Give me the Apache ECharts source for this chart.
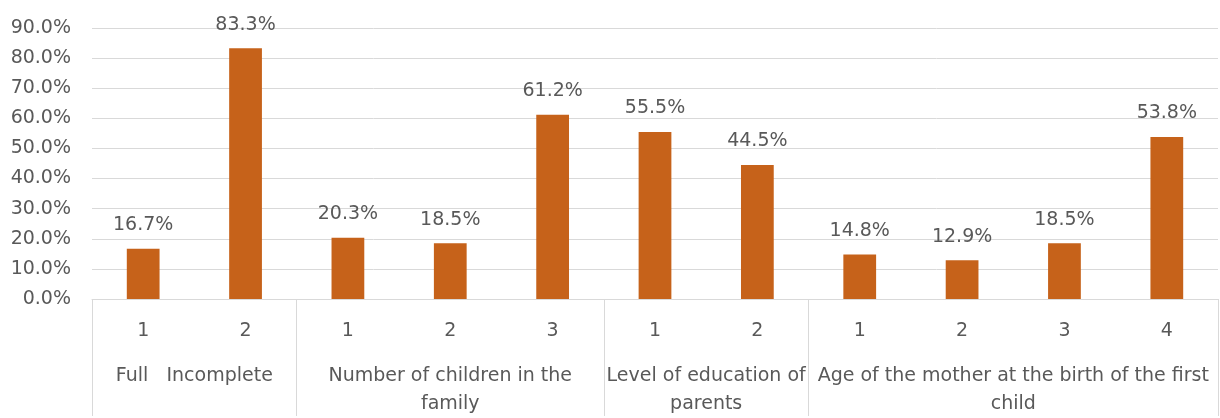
<!DOCTYPE html>
<html>
<head>
<meta charset="utf-8">
<script src="https://cdn.jsdelivr.net/npm/echarts@6/dist/echarts.min.js"></script>
<style>
html,body{margin:0;padding:0;background:#fff;}
#chart{width:1220px;height:418px;}
</style>
</head>
<body>
<div id="chart"></div>
<script>
// Data
var subCategories = ['1', '2', '1', '2', '3', '1', '2', '1', '2', '3', '4'];
var values = [0.167, 0.833, 0.203, 0.185, 0.612, 0.555, 0.445, 0.148, 0.129, 0.185, 0.538];
var groupNames = ['Full   Incomplete', 'Number of children in the\nfamily', 'Level of education of\nparents', 'Age of the mother at the birth of the first\nchild'];
var groupSizes = [2, 3, 2, 4];
var yTicks = [0, 0.1, 0.2, 0.3, 0.4, 0.5, 0.6, 0.7, 0.8, 0.9];

// Derived group boundaries and centers
var boundaries = [0];
var centers = [];
groupSizes.forEach(function (s) {
  var start = boundaries[boundaries.length - 1];
  centers.push(start + s / 2);
  boundaries.push(start + s);
});

var textColor = '#595959';
var lineColor = '#D9D9D9';
var fontFamily = 'DejaVu Sans';
var fs = 19;

var chart = echarts.init(document.getElementById('chart'));
chart.setOption({
  animation: false,
  grid: { left: 92, right: 2, top: 28, bottom: 117, containLabel: false },
  xAxis: [
    {
      type: 'category',
      data: subCategories,
      position: 'bottom',
      axisLine: { show: true, lineStyle: { color: lineColor, width: 1 } },
      axisTick: { show: false },
      axisLabel: { color: textColor, fontSize: fs, fontFamily: fontFamily, margin: 23, lineHeight: 19 },
      splitLine: { show: false }
    },
    {
      type: 'value',
      min: 0,
      max: subCategories.length,
      position: 'bottom',
      axisLine: { show: false },
      splitLine: { show: false },
      axisTick: {
        show: true,
        customValues: boundaries,
        length: 117,
        lineStyle: { color: lineColor, width: 1 }
      },
      axisLabel: {
        show: true,
        customValues: centers,
        color: textColor,
        fontSize: fs,
        fontFamily: fontFamily,
        lineHeight: 28,
        margin: 63,
        formatter: function (v) {
          for (var i = 0; i < centers.length; i++) {
            if (Math.abs(centers[i] - v) < 1e-6) return groupNames[i];
          }
          return '';
        }
      }
    }
  ],
  yAxis: {
    type: 'value',
    min: yTicks[0],
    max: yTicks[yTicks.length - 1],
    interval: 0.1,
    axisLine: { show: false },
    axisTick: { show: false },
    splitLine: { lineStyle: { color: lineColor, width: 1 } },
    axisLabel: {
      color: textColor,
      fontSize: fs,
      fontFamily: fontFamily,
      margin: 21,
      formatter: function (v) { return (v * 100).toFixed(1) + '%'; }
    }
  },
  series: [{
    type: 'bar',
    xAxisIndex: 0,
    data: values,
    barWidth: '32%',
    itemStyle: { color: '#C6621A' },
    label: {
      show: true,
      position: 'top',
      distance: 14,
      color: textColor,
      fontSize: fs,
      fontFamily: fontFamily,
      formatter: function (p) { return (p.value * 100).toFixed(1) + '%'; }
    }
  }]
});
</script>
</body>
</html>
